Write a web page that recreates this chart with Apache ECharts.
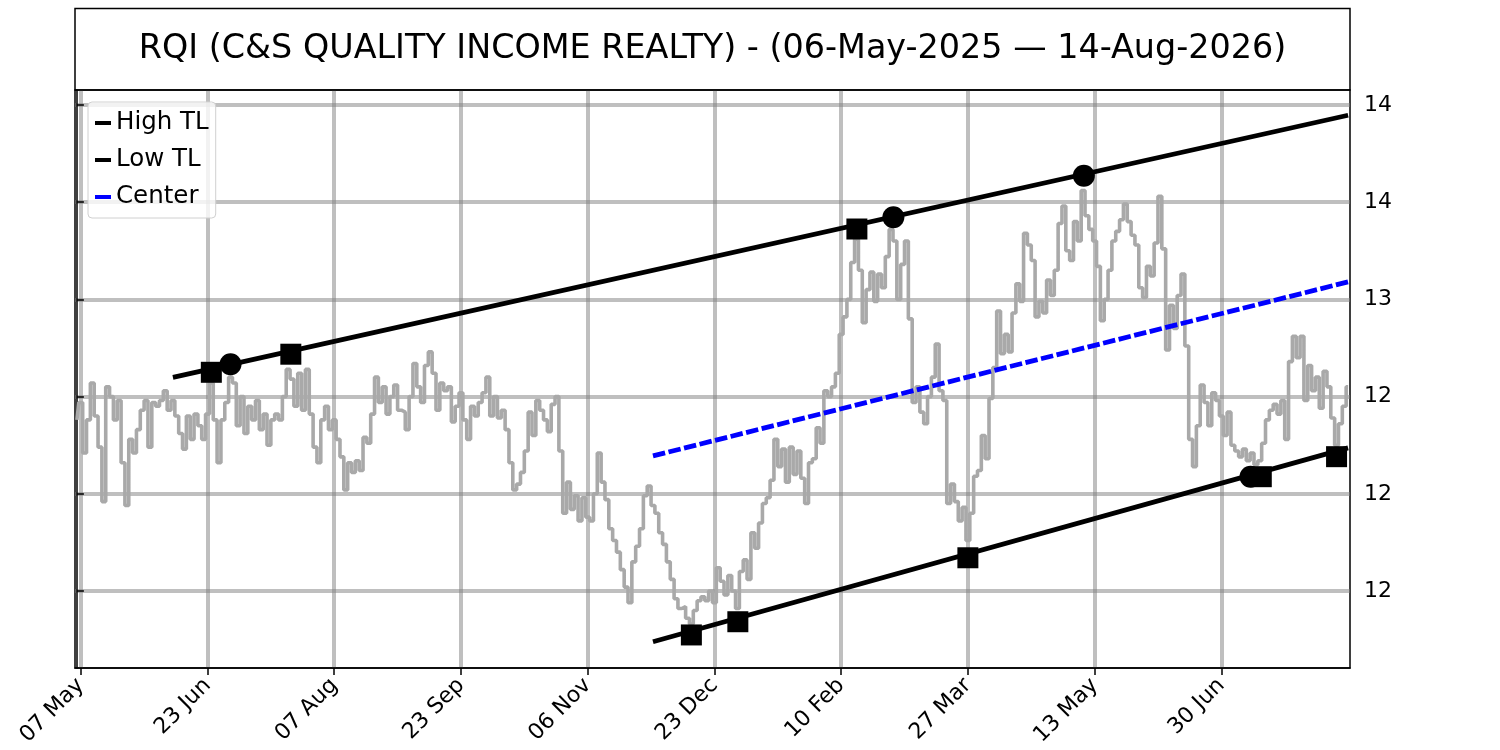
<!DOCTYPE html>
<html>
<head>
<meta charset="utf-8">
<script src="https://cdn.jsdelivr.net/npm/echarts@6/dist/echarts.min.js"></script>
<style>
html,body{margin:0;padding:0;background:#fff;}
#chart{width:1500px;height:750px;}
</style>
</head>
<body>
<div id="chart"></div>
<script>
// ---- data ----
const titleText = 'RQI (C&S QUALITY INCOME REALTY) - (06-May-2025 \u2014 14-Aug-2026)';

// closing price by trading-day index (0 = 06 May 2025)
const priceValues = [
  12.38,12.47,12.21,12.38,12.57,12.40,12.24,11.96,12.55,12.50,
  12.38,12.48,12.16,11.94,12.28,12.21,12.33,12.43,12.48,12.24,
  12.47,12.45,12.48,12.53,12.43,12.48,12.40,12.31,12.23,12.40,
  12.28,12.41,12.35,12.28,12.41,12.57,12.38,12.16,12.38,12.47,
  12.60,12.57,12.35,12.50,12.31,12.45,12.38,12.48,12.33,12.41,
  12.25,12.38,12.41,12.38,12.50,12.64,12.59,12.45,12.62,12.43,
  12.64,12.41,12.24,12.16,12.38,12.45,12.33,12.38,12.28,12.19,
  12.02,12.16,12.11,12.17,12.12,12.29,12.26,12.41,12.60,12.47,
  12.55,12.41,12.50,12.56,12.43,12.42,12.33,12.50,12.67,12.55,
  12.47,12.66,12.73,12.62,12.43,12.57,12.53,12.55,12.37,12.45,
  12.52,12.38,12.28,12.45,12.40,12.47,12.52,12.60,12.40,12.50,
  12.39,12.43,12.33,12.16,12.02,12.05,12.11,12.22,12.42,12.30,
  12.48,12.43,12.38,12.32,12.46,12.50,12.22,11.90,12.06,11.92,
  11.99,11.86,11.98,11.88,11.86,12.00,12.21,12.06,11.97,11.82,
  11.76,11.70,11.61,11.52,11.44,11.65,11.73,11.82,11.99,12.04,
  11.94,11.90,11.80,11.74,11.65,11.56,11.46,11.41,11.42,11.36,
  11.33,11.40,11.45,11.47,11.45,11.50,11.44,11.62,11.55,11.48,
  11.58,11.50,11.41,11.60,11.66,11.56,11.80,11.72,11.85,11.95,
  11.98,12.07,12.28,12.14,12.23,12.06,12.24,12.10,12.22,12.08,
  11.95,12.16,12.18,12.34,12.26,12.53,12.50,12.55,12.62,12.82,
  12.91,13.00,13.19,13.31,13.15,12.88,13.05,13.14,12.99,13.13,
  13.06,13.22,13.36,13.30,13.00,13.18,13.30,12.90,12.47,12.55,
  12.42,12.36,12.50,12.60,12.77,12.53,12.48,11.95,12.05,11.96,
  11.86,11.93,11.76,11.90,12.09,12.12,12.30,12.18,12.49,12.65,
  12.94,12.72,12.82,12.73,12.93,13.08,12.99,13.34,13.28,13.20,
  12.91,12.99,12.93,13.10,13.02,13.15,13.39,13.48,13.25,13.20,
  13.40,13.30,13.56,13.43,13.36,13.30,13.17,12.89,13.00,13.15,
  13.30,13.35,13.41,13.49,13.40,13.33,13.28,13.06,13.01,13.17,
  13.12,13.29,13.53,13.26,12.74,12.97,12.85,13.02,13.13,12.76,
  12.28,12.14,12.35,12.56,12.47,12.35,12.52,12.48,12.40,12.30,
  12.42,12.25,12.22,12.19,12.23,12.17,12.21,12.15,12.17,12.26,
  12.38,12.43,12.46,12.41,12.48,12.28,12.68,12.81,12.70,12.81,
  12.48,12.66,12.53,12.60,12.44,12.63,12.55,12.39,12.25,12.36,
  12.45,12.55
];

// trend lines: [index, value] end points
const highTL = [[25, 12.599], [331, 13.947]];
const lowTL = [[150, 11.239], [331, 12.236]];
const centerTL = [[150, 12.195], [331, 13.090]];

// pivot markers
const circleIdx = [40, 212.6, 262.2, 305.6];
const circleVal = [12.666, 13.422, 13.636, 12.088];
const squareIdx = [35, 55.7, 203.1, 160, 172.1, 232, 308.4, 328];
const squareVal = [12.625, 12.718, 13.362, 11.274, 11.342, 11.671, 12.088, 12.191];

// axis ticks
const xTickIdx = [1, 34, 67, 100, 133, 166, 199, 232, 265, 298];
const xTickLabels = ['07 May','23 Jun','07 Aug','23 Sep','06 Nov','23 Dec','10 Feb','27 Mar','13 May','30 Jun'];
const yTickValues = [11.5, 12, 12.5, 13, 13.5, 14];
const yTickLabels = ['12','12','12','13','14','14'];

// ---- chart ----
const FONT = 'DejaVu Sans';
const priceData = priceValues.map((v, i) => [i, v]);
const circles = circleIdx.map((x, i) => [x, circleVal[i]]);
const squares = squareIdx.map((x, i) => [x, squareVal[i]]);
const gridColor = 'rgba(128,128,128,0.5)';

const chart = echarts.init(document.getElementById('chart'), null, {renderer: 'canvas'});
chart.setOption({
  animation: false,
  backgroundColor: '#fff',
  textStyle: {fontFamily: FONT},
  grid: {left: 75, right: 150, top: 90, bottom: 82, show: true, borderColor: '#000', borderWidth: 1.5, backgroundColor: 'transparent'},
  graphic: [
    {type: 'rect', shape: {x: 75, y: 8.5, width: 1275, height: 81.5}, style: {fill: 'none', stroke: '#000', lineWidth: 1.5}, z: 10},
    {type: 'text', x: 712.5, y: 49, style: {text: titleText, font: '33.4px "DejaVu Sans"', fill: '#000', textAlign: 'center', textVerticalAlign: 'middle'}, z: 10}
  ],
  legend: {
    orient: 'vertical', left: 88, top: 102,
    data: ['High TL', 'Low TL', 'Center'],
    icon: 'rect', itemWidth: 16, itemHeight: 4, itemGap: 9,
    padding: [7, 7, 7, 7],
    backgroundColor: 'rgba(255,255,255,0.8)', borderColor: '#d0d0d0', borderWidth: 1, borderRadius: 4,
    textStyle: {fontSize: 24.5, lineHeight: 28, color: '#000', fontFamily: FONT}
  },
  xAxis: {
    type: 'value', min: -0.5, max: 331.5,
    axisLine: {show: true, lineStyle: {color: '#000', width: 1.5}},
    axisTick: {show: true, customValues: xTickIdx, length: 7, lineStyle: {color: '#000', width: 1.5}},
    axisLabel: {
      customValues: xTickIdx, rotate: 45, fontSize: 22, color: '#000', margin: 14, fontFamily: FONT,
      formatter: v => { const k = xTickIdx.indexOf(Math.round(v)); return k >= 0 ? xTickLabels[k] : ''; }
    },
    splitLine: {show: true, lineStyle: {color: gridColor, width: 4}}
  },
  yAxis: {
    type: 'value', position: 'right', min: 11.104, max: 14.077,
    axisLine: {show: true, lineStyle: {color: '#000', width: 1.5}},
    axisTick: {show: true, customValues: yTickValues, length: 7, lineStyle: {color: '#000', width: 1.5}},
    axisLabel: {
      customValues: yTickValues, fontSize: 22, color: '#000', margin: 14, fontFamily: FONT,
      formatter: v => { const k = yTickValues.findIndex(t => Math.abs(t - v) < 1e-6); return k >= 0 ? yTickLabels[k] : ''; }
    },
    splitLine: {show: true, lineStyle: {color: gridColor, width: 4}}
  },
  series: [
    {name: 'Price', type: 'line', data: priceData, step: 'middle', showSymbol: false, symbol: 'none',
     lineStyle: {color: '#a9a9a9', width: 3.6}, itemStyle: {color: '#a9a9a9'}, z: 2},
    {name: 'High TL', type: 'line', data: highTL, showSymbol: false, symbol: 'none',
     lineStyle: {color: '#000', width: 4.8}, itemStyle: {color: '#000'}, z: 3},
    {name: 'Low TL', type: 'line', data: lowTL, showSymbol: false, symbol: 'none',
     lineStyle: {color: '#000', width: 4.8}, itemStyle: {color: '#000'}, z: 3},
    {name: 'Center', type: 'line', data: centerTL, showSymbol: false, symbol: 'none',
     lineStyle: {color: '#0000ff', width: 4.8, type: [12.5, 3.5]}, itemStyle: {color: '#0000ff'}, z: 3},
    {name: 'Pivot circles', type: 'scatter', data: circles, symbol: 'circle', symbolSize: 22,
     itemStyle: {color: '#000', opacity: 1}, z: 4},
    {name: 'Pivot squares', type: 'scatter', data: squares, symbol: 'rect', symbolSize: 21,
     itemStyle: {color: '#000', opacity: 1}, z: 4}
  ]
});
</script>
</body>
</html>
